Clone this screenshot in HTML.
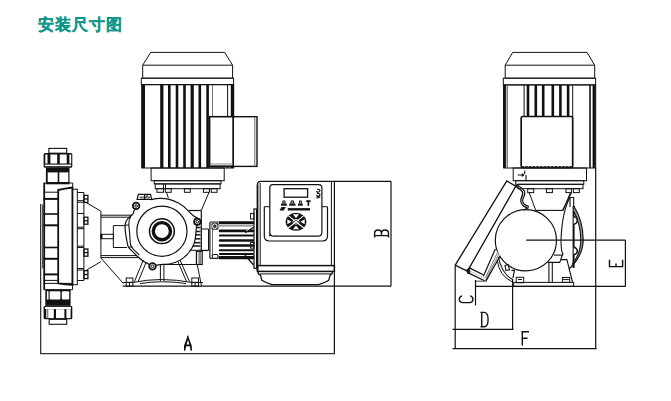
<!DOCTYPE html>
<html><head><meta charset="utf-8">
<style>
html,body{margin:0;padding:0;background:#fff;width:671px;height:401px;overflow:hidden}
svg{position:absolute;left:0;top:0;display:block}
.t{position:absolute;left:38px;top:14.6px;font-family:"Liberation Sans",sans-serif;font-weight:bold;font-size:16px;line-height:20px;color:#12968a;letter-spacing:1.1px;white-space:nowrap;-webkit-text-stroke:0.25px #12968a}
</style></head><body>
<div class="t">安装尺寸图</div>
<svg width="671" height="401" viewBox="0 0 671 401" fill="none" stroke="#111" stroke-width="1" shape-rendering="geometricPrecision">
<!-- LEFT VIEW MOTOR -->
<g id="lmotor">
<path d="M150.7 52.4H224.7L232.6 65.2V78.2H142.7V65.2Z"/>
<line x1="142.7" y1="65.2" x2="232.6" y2="65.2"/>
<rect x="141.3" y="78.2" width="92.3" height="6.4"/>
<rect x="141.7" y="84.7" width="92" height="83.3"/>
<g stroke-width="3.2">
<line x1="143.4" y1="85" x2="143.4" y2="168"/>
<line x1="161.8" y1="85" x2="161.8" y2="168"/>
<line x1="192.2" y1="85" x2="192.2" y2="168"/>
<line x1="232.4" y1="85" x2="232.4" y2="168"/>
</g>
<g stroke-width="2.6">
<line x1="169.3" y1="85" x2="169.3" y2="168"/>
<line x1="177" y1="85" x2="177" y2="168"/>
<line x1="184.5" y1="85" x2="184.5" y2="168"/>
<line x1="199.8" y1="85" x2="199.8" y2="168"/>
<line x1="207.6" y1="85" x2="207.6" y2="168"/>
</g>
<line x1="212.5" y1="85" x2="212.5" y2="117" stroke="#777"/>
<line x1="227.6" y1="85" x2="227.6" y2="168"/>
<rect x="209.6" y="116.7" width="23.7" height="49.7" fill="#fff" stroke-width="1.6"/>
<rect x="233.3" y="116.7" width="23.7" height="49.7" fill="#fff" stroke-width="1.4"/>
<line x1="210.5" y1="166.4" x2="233" y2="166.4" stroke-width="1.5"/>
<line x1="254.8" y1="117" x2="254.8" y2="166.4" stroke="#666"/>
<line x1="210" y1="164" x2="233" y2="164" stroke="#888"/>
<rect x="151.1" y="168" width="73.1" height="12.7"/>
<rect x="154.2" y="180.7" width="66.8" height="3.2"/>
<rect x="155.2" y="183.9" width="64.9" height="4.8"/>
<line x1="163.5" y1="183.9" x2="163.5" y2="188.7"/>
<line x1="165.5" y1="183.9" x2="165.5" y2="188.7"/>
<rect x="156.9" y="188.7" width="6.6" height="3.6"/>
<rect x="165.3" y="188.7" width="5.9" height="3.6"/>
<rect x="184.4" y="188.7" width="5.9" height="3.6"/>
<rect x="203.4" y="188.7" width="6" height="3.6"/>
<rect x="211.2" y="188.7" width="5.9" height="3.6"/>
<line x1="166.5" y1="192.3" x2="168.4" y2="198.2"/>
<line x1="209" y1="192.3" x2="201.3" y2="210.5"/>
</g>
<!-- DIAPHRAGM HEAD -->
<g id="lhead">
<!-- top valve -->
<rect x="48.9" y="148.4" width="17.8" height="4.8" stroke-width="1.1"/>
<rect x="43.6" y="152.9" width="28.7" height="14.8" rx="1.5" fill="#111" stroke="none"/>
<g fill="#fff" stroke="none">
<rect x="45.3" y="154.5" width="2.2" height="9"/>
<rect x="50.4" y="154.5" width="6.8" height="9"/>
<rect x="59.8" y="154.5" width="6.9" height="9"/>
<rect x="69.4" y="154.5" width="1.8" height="9"/>
<rect x="44.8" y="164.6" width="26.3" height="1.6"/>
</g>
<rect x="45.9" y="167.5" width="23.6" height="16.8" fill="#111" stroke="none"/>
<g fill="#fff" stroke="none">
<rect x="47.7" y="172.4" width="10" height="9.6"/>
<rect x="59.3" y="172.4" width="9" height="9.6"/>
</g>
<!-- body plate -->
<path d="M43.5 183H72.7V187.6"/>
<line x1="43.5" y1="192.2" x2="58.4" y2="192.2"/>
<line x1="43.5" y1="198.9" x2="58.4" y2="198.9" stroke-width="2"/>
<line x1="43.5" y1="214" x2="58.4" y2="214" stroke-width="1.6"/>
<line x1="43.5" y1="225.3" x2="58.4" y2="225.3" stroke-width="2"/>
<line x1="43.5" y1="247.5" x2="58.4" y2="247.5" stroke-width="1.6"/>
<line x1="43.5" y1="258.8" x2="58.4" y2="258.8" stroke-width="2"/>
<line x1="43.5" y1="274.4" x2="58.4" y2="274.4" stroke-width="2"/>
<line x1="43.5" y1="280.4" x2="58.4" y2="280.4"/>
<line x1="44.2" y1="183" x2="44.2" y2="289.5" stroke-width="1.8"/>
<line x1="42.7" y1="204.5" x2="42.7" y2="268.4" stroke-width="0.9"/>
<!-- cover -->
<path d="M58.2 283.4V190Q65 188.5 72.4 187.5V284.9Q65 284.4 58.2 283.4Z" stroke-width="1.8"/>
<rect x="72.6" y="189.2" width="4.7" height="95.5"/>
<path d="M77.3 192.5H83.9V280.5H77.3"/>
<line x1="77.3" y1="200.7" x2="83.9" y2="200.7"/>
<line x1="77.3" y1="202.2" x2="83.9" y2="202.2"/>
<line x1="77.3" y1="213.5" x2="83.9" y2="213.5"/>
<line x1="77.3" y1="227.2" x2="83.9" y2="227.2"/>
<line x1="77.3" y1="228.7" x2="83.9" y2="228.7"/>
<line x1="77.3" y1="246.2" x2="83.9" y2="246.2"/>
<line x1="77.3" y1="247.5" x2="83.9" y2="247.5"/>
<line x1="77.3" y1="268.5" x2="83.9" y2="268.5"/>
<line x1="77.3" y1="270" x2="83.9" y2="270"/>
<g stroke-width="1.3">
<rect x="84" y="195.4" width="3.9" height="7"/><line x1="84" y1="199" x2="87.9" y2="199"/>
<rect x="84" y="217.2" width="3.9" height="7"/><line x1="84" y1="220.8" x2="87.9" y2="220.8"/>
<rect x="84" y="249" width="3.9" height="7.2"/><line x1="84" y1="252.6" x2="87.9" y2="252.6"/>
<rect x="84" y="270.7" width="3.9" height="7.9"/><line x1="84" y1="274.5" x2="87.9" y2="274.5"/>
</g>
<path d="M43.5 283.4H72.6V289.7H43.5"/>
<!-- bottom valve -->
<rect x="45.3" y="289.5" width="25.3" height="16.3" fill="#111" stroke="none"/>
<g fill="#fff" stroke="none">
<rect x="46.9" y="291.2" width="1.6" height="8.4"/>
<rect x="49.6" y="291.2" width="10.8" height="8.4" rx="1"/>
<rect x="61.8" y="291.2" width="7.4" height="8.4" rx="1"/>
</g>
<rect x="43.6" y="305.8" width="28.7" height="13.5" rx="1.5" fill="#111" stroke="none"/>
<g fill="#fff" stroke="none">
<rect x="44.9" y="306.9" width="26.1" height="2.2"/>
<rect x="46.3" y="309.2" width="1.2" height="8.9"/>
<rect x="48.2" y="309.2" width="5.6" height="8.9"/>
<rect x="56" y="309.2" width="8.4" height="8.9"/>
<rect x="66.4" y="309.2" width="4.2" height="8.9"/>
</g>
<rect x="49.2" y="319.3" width="17.5" height="5" stroke-width="1.1"/>
<!-- connection to housing -->
<line x1="85.9" y1="202.4" x2="100.9" y2="211.2"/>
<line x1="86.6" y1="270" x2="100.9" y2="261.7"/>
<line x1="100.9" y1="211.2" x2="100.9" y2="258"/>
<line x1="100.9" y1="258" x2="123.3" y2="283.4"/>
<line x1="100.9" y1="215.2" x2="132.4" y2="215.2"/>
<line x1="100.9" y1="217.2" x2="131" y2="217.2"/>
<line x1="100.9" y1="255.6" x2="136.5" y2="255.6"/>
<line x1="100.9" y1="257.6" x2="138.5" y2="257.6"/>
<path d="M127 247.5H113.3V225.6H125.5"/>
<rect x="100.9" y="234.3" width="12.6" height="4.4"/>
<line x1="101.5" y1="234.3" x2="101.5" y2="238.7" stroke-width="2"/>
</g>
<!-- GEAR HOUSING -->
<g id="lhous">
<path d="M137.1 199.5L138.3 194.4H150.6L151.5 199.5Z" stroke-width="1.2"/>
<path d="M139.5 197.5H150" stroke="#777" stroke-width="2.2"/>
<line x1="144.6" y1="194.8" x2="144.6" y2="199" stroke-width="1.2"/>
<line x1="147" y1="194.8" x2="147" y2="197" stroke-width="1"/>
<!-- outer outline -->
<path d="M151.2 199.6Q165 196.2 178 202.8Q184.6 206.4 188.8 211.3Q192 215.3 197.7 218.4" stroke-width="1.2"/>
<path d="M134.6 209.2L133 214L131.2 215.4Q126.5 219 125.1 224.3Q124.8 230 126 236Q127.2 243 128 246.2Q129.5 249 131.2 250.2L137.7 256.7Q143 261.5 149.2 264.4" stroke-width="1.2"/>
<path d="M131.2 215.4Q128.5 219.5 128.8 224.3Q129 228 129.6 232.4Q130 240 130.4 243.8Q131 246.5 132.8 248.6L139.3 255.1" stroke-width="1.1"/>
<line x1="125" y1="225.1" x2="128.9" y2="225.1"/>
<line x1="128" y1="247" x2="132.3" y2="247"/>
<path d="M156 265.2L162.9 264.4A32 32 0 0 0 195.3 239L196.6 225.5" stroke-width="1.2"/>
<circle cx="136.1" cy="205.9" r="3.3" stroke-width="1.8"/>
<circle cx="136.1" cy="205.9" r="1.3"/>
<circle cx="152.5" cy="266.4" r="3.3" stroke-width="1.8"/>
<circle cx="152.5" cy="266.4" r="1.3"/>
<circle cx="197.3" cy="221.8" r="3.2" stroke-width="1.8"/>
<circle cx="197.3" cy="221.8" r="1.3"/>
<circle cx="161.9" cy="231.2" r="25.1" stroke-width="1.2"/>
<circle cx="161.9" cy="231.2" r="12.4" stroke-width="1.5"/>
<circle cx="161.9" cy="231.2" r="8.6" stroke-width="3.4"/>
<!-- fins strip right -->
<line x1="201.3" y1="210.5" x2="201.3" y2="252" stroke-width="1.2"/>
<line x1="188.8" y1="210.5" x2="201.3" y2="210.5" stroke-width="1.2"/>
<g stroke-width="1.5">
<line x1="196.4" y1="227.5" x2="201" y2="227.5"/>
<line x1="196" y1="231.5" x2="201" y2="231.5"/>
<line x1="195.5" y1="234.8" x2="201" y2="234.8"/>
<line x1="195" y1="238.8" x2="201" y2="238.8"/>
<line x1="194" y1="242.7" x2="201" y2="242.7"/>
<line x1="192.6" y1="246" x2="201" y2="246"/>
</g>
<line x1="200.2" y1="226" x2="200.2" y2="250" stroke="#999" stroke-width="0.8"/>
<line x1="189.6" y1="250.3" x2="208.3" y2="250.3"/>
<rect x="196.4" y="251.3" width="5.8" height="13.2" stroke-width="1.2"/>
<line x1="198.3" y1="252" x2="198.3" y2="264" stroke="#888" stroke-width="0.8"/>
<line x1="200" y1="252" x2="200" y2="264" stroke-width="1"/>
<line x1="162.9" y1="264.5" x2="202.3" y2="264.5"/>
<!-- legs -->
<line x1="143.3" y1="260" x2="134.4" y2="281.7"/>
<line x1="146.3" y1="262" x2="138.1" y2="281.7"/>
<line x1="160.4" y1="264.8" x2="160.4" y2="281"/>
<line x1="163.9" y1="264.8" x2="163.9" y2="281"/>
<line x1="177.9" y1="261.5" x2="186.5" y2="281.5"/>
<line x1="180.2" y1="260.5" x2="189.5" y2="281.5"/>
<line x1="197.3" y1="264.9" x2="201.5" y2="286"/>
<!-- base -->
<line x1="122.7" y1="286.2" x2="391" y2="286.2" stroke-width="1.3"/>
<path d="M123.2 282.5H133Q160 276.5 192 282.5H202.9"/>
<path d="M140 283.5Q162 280 186 283.5"/>
<rect x="126.2" y="278" width="6.7" height="8.2"/>
<line x1="126.2" y1="282.3" x2="132.9" y2="282.3"/>
<line x1="129.5" y1="282.3" x2="129.5" y2="286.2"/>
<rect x="191.8" y="278" width="6.7" height="8.2"/>
<line x1="191.8" y1="282.3" x2="198.5" y2="282.3"/>
<line x1="195.1" y1="282.3" x2="195.1" y2="286.2"/>
</g>
<!-- SMALL MOTOR + CONTROLLER -->
<g id="lctl">
<path d="M201.2 229H208.5V250.6H202.4"/>
<path d="M209.9 258.3V223.2Q209.9 222 211 222H218.2" stroke-width="1.2"/>
<line x1="212.5" y1="223" x2="212.5" y2="258.3" stroke="#555" stroke-width="0.9"/>
<line x1="209.9" y1="258.3" x2="218.2" y2="258.3" stroke-width="1.2"/>
<rect x="211.5" y="222.8" width="7" height="7" rx="1.5" fill="#333" stroke="none"/><circle cx="214.8" cy="226.2" r="2.3" stroke="#fff" stroke-width="1"/>
<path d="M212 256.5Q212 254.5 214 254.5H216.5Q218 254.5 218 256.5V258.3" stroke-width="1.1"/>
<g fill="#111" stroke="none">
<rect x="218.6" y="221.2" width="35.6" height="3.1" rx="1"/>
<rect x="219" y="225.3" width="35" height="1.2" fill="#777"/>
<rect x="218.8" y="229.4" width="35.2" height="2.9" rx="1"/>
<rect x="218.8" y="234.4" width="35.2" height="2.2" rx="1"/>
<rect x="218.8" y="239.3" width="35.2" height="2.5" rx="1"/>
<rect x="218.8" y="244.2" width="35.2" height="2.5" rx="1"/>
<rect x="218.8" y="249.2" width="35.2" height="2.1" rx="1"/>
<rect x="218.8" y="253" width="35.2" height="2" rx="1"/>
<rect x="218.6" y="255.9" width="35.6" height="3.3" rx="1"/>
</g>
<line x1="245.2" y1="232.6" x2="253.6" y2="227.2" stroke-width="1.4"/>
<line x1="246" y1="231" x2="253.6" y2="226" stroke="#fff" stroke-width="0.8"/>
<path d="M244.8 255L253.6 265" stroke-width="1.2"/>
<rect x="254" y="209" width="2.6" height="59.3" stroke-width="1.2"/>
<rect x="250.6" y="213.4" width="3.4" height="5.6"/>
<rect x="250.6" y="242.5" width="3.4" height="5.6"/>
<!-- controller -->
<path d="M257.5 271.2V184.3" stroke-width="1.8"/>
<path d="M257.5 184.6Q257.5 181.3 260.8 181.3H334.4" stroke-width="1.3"/>
<line x1="260.2" y1="183" x2="260.2" y2="265.6"/>
<line x1="331.4" y1="182" x2="331.4" y2="265.6"/>
<line x1="334.4" y1="181.3" x2="334.4" y2="354" stroke-width="1.2"/>
<rect x="257.5" y="265.6" width="76.9" height="5.8" stroke-width="1.5"/>
<path d="M258 271.4Q258 274.6 260.4 274.8L261.8 280.2Q265.5 282.6 272 284.6H318.6Q325 282.6 328.8 280.2L330.2 274.8Q332.4 274.6 332.4 271.4" stroke-width="1.3"/>
<line x1="260" y1="273.9" x2="331" y2="273.9" stroke-width="1"/>
<path d="M264.3 206.7V236Q264.3 241 269.3 241H322.5Q327.5 241 327.5 236V206.7" stroke-width="1.2"/>
<line x1="264.3" y1="206.7" x2="269.8" y2="206.7"/>
<line x1="321.9" y1="206.7" x2="327.5" y2="206.7"/>
<path d="M269.8 236.2V188Q269.8 184.7 272.8 184.7H318.9Q321.9 184.7 321.9 188V232.2Q321.9 236.2 317.9 236.2H273.8Q269.8 236.2 269.8 232.2" stroke-width="1.2"/>
<rect x="284.1" y="188.7" width="23.5" height="8.5" stroke-width="1.3"/>
<g fill="#111" stroke="none">
<rect x="281" y="203.6" width="5.8" height="2.1"/>
<path d="M282 203.6L282.6 200.4H285.2L285.8 203.6Z"/>
<rect x="289.2" y="203.6" width="6.3" height="2.1"/>
<path d="M290.2 203.6L291 200.4H293.8L294.6 203.6Z"/>
<rect x="298" y="203.6" width="4.8" height="2.1"/>
<path d="M298.8 203.6L299.2 200.4H301.6L302 203.6Z"/>
<path d="M306.2 200.3H310.5V202H309.2V205.7H307.5V202H306.2Z"/>
</g>
<g fill="#fff" stroke="none">
<rect x="283.2" y="201.6" width="1.3" height="1"/>
<rect x="291.6" y="201.6" width="1.6" height="1"/>
<rect x="299.9" y="201.6" width="1.1" height="1"/>
</g>
<rect x="287.8" y="208.1" width="22.2" height="2.4" fill="#111" stroke="none"/>
<path d="M279.5 210.5L281.5 207.1H285.8L283.8 210.5Z" fill="#111" stroke="none"/>
<path d="M317 189.2Q320 189 320 190.6Q320 192.2 318 192.2Q316.6 192.2 316.8 190.8M317 193.4Q320 193.2 320 194.8Q320 196.2 318 196.2Q316.6 196.2 316.8 194.8M316.6 198.2L320.2 197L316.6 196.6" stroke-width="1.1"/>
<ellipse cx="296" cy="221.8" rx="10.5" ry="9" fill="#111" stroke="none"/>
<g stroke="#fff" stroke-width="1.1">
<line x1="288.2" y1="215.6" x2="303.8" y2="228"/>
<line x1="303.8" y1="215.6" x2="288.2" y2="228"/>
</g>
<g fill="#fff" stroke="none">
<path d="M293 214.3L299 214.3L296 218.2Z"/>
<path d="M293 229.3L299 229.3L296 225.4Z"/>
<path d="M287.3 219.3L287.3 224.3L291.5 221.8Z"/>
<path d="M304.7 219.3L304.7 224.3L300.5 221.8Z"/>
</g>
<ellipse cx="296" cy="221.8" rx="3.2" ry="2.3" fill="none" stroke="#fff" stroke-width="0.8"/>


</g>
<!-- RIGHT VIEW MOTOR -->
<g id="rmotor">
<path d="M512.7 52.4H587L594.7 65.2V78.2H505.2V65.2Z"/>
<line x1="505.2" y1="65.2" x2="594.7" y2="65.2"/>
<rect x="503.3" y="78.2" width="92.3" height="6.6"/>
<rect x="503.7" y="85" width="92" height="83"/>
<g stroke-width="2.8">
<line x1="504.5" y1="85" x2="504.5" y2="168"/>
<line x1="594" y1="85" x2="594" y2="168"/>
</g>
<g stroke-width="2.6">
<line x1="528" y1="85" x2="528" y2="117"/>
<line x1="535.8" y1="85" x2="535.8" y2="117"/>
<line x1="543.2" y1="85" x2="543.2" y2="117"/>
<line x1="552.8" y1="85" x2="552.8" y2="117"/>
<line x1="560.4" y1="85" x2="560.4" y2="117"/>
<line x1="568.1" y1="85" x2="568.1" y2="117"/>
</g>
<line x1="507.2" y1="85" x2="507.2" y2="168" stroke="#666" stroke-width="1.3"/>
<line x1="524.1" y1="85" x2="524.1" y2="117"/>
<line x1="572.7" y1="85" x2="572.7" y2="117"/>
<line x1="590" y1="85" x2="590" y2="168" stroke-width="1.6"/>
<rect x="521.2" y="116.5" width="51.5" height="51" rx="1.5" stroke-width="1.7" fill="#fff"/>
<line x1="521.5" y1="166.8" x2="572.5" y2="166.8" stroke="#333" stroke-width="1.4" stroke-dasharray="2.5 1.2"/>
<rect x="513.2" y="168" width="73.3" height="12.7"/>
<rect x="515.7" y="180.7" width="68.1" height="3.6"/>
<rect x="518" y="184.3" width="65" height="4.4"/>
<rect x="527.7" y="188.7" width="6" height="3.9"/>
<rect x="546.4" y="188.7" width="6" height="3.9"/>
<rect x="565.9" y="188.7" width="5.5" height="3.9"/>
<rect x="573.4" y="188.7" width="5.9" height="3.9"/>
<path d="M517.7 175H524M524 175L521.8 173.6M524 175L521.8 176.4M524.7 170.5V174M526 175V180.7" stroke-width="1.1"/>
<line x1="529.2" y1="192.6" x2="535.9" y2="210.9"/>
<line x1="570.4" y1="192.6" x2="562.9" y2="211"/>
</g>
<!-- RIGHT VIEW PUMP -->
<g id="rpump">
<!-- tilted head -->
<path d="M455.2 265.1L506.8 181L515.8 186.2L467.9 270.4" stroke-width="1.3"/>
<line x1="455.2" y1="265.1" x2="468.7" y2="271.9" stroke-width="1.2"/>
<path d="M516 186.5Q520 188.8 522.3 191.6Q523.4 193.8 521.5 197.6Q519.6 201.5 522.4 204.9Q524.6 206.8 526.6 207.6L526.2 208.8L523.8 210.2" stroke-width="1.3"/>
<path d="M517.4 185.3Q522 187.8 524.4 191Q525.6 193.6 523.4 197.8Q521.6 201.3 524.1 204Q526 205.6 528.3 206.4L527.6 209.4" stroke-width="1.2"/>
<path d="M514.5 184.5L517.5 185.5L516 188Z" fill="#111" stroke="none"/>
<path d="M469.4 267.9L484.2 275.2" stroke-width="1.2"/>
<path d="M469 270.5L484 278" stroke="#999" stroke-width="0.6"/>
<path d="M468.3 272.8L485 281" stroke-width="1.3"/>
<path d="M466.8 269.6L469.4 267.9L469.8 273.2L467.6 273.6Z" fill="#111" stroke-width="0.8"/>
<line x1="475.7" y1="281.2" x2="485.3" y2="281.2" stroke="#666" stroke-width="1.2"/>
<!-- big circle -->
<circle cx="525.9" cy="240.3" r="30.6" stroke-width="1.2"/>
<path d="M483 276L495 248.8L500.2 255.6L485.8 281.8Z" fill="#fff" stroke="none"/>
<line x1="483.4" y1="276.2" x2="495.3" y2="249" stroke-width="1.2"/>
<line x1="485.6" y1="281.6" x2="500.2" y2="255.8" stroke-width="1.2"/>
<g stroke="#444" stroke-width="0.7">
<line x1="485.3" y1="278.2" x2="497.6" y2="252.2"/>
<line x1="485.8" y1="279.6" x2="498.9" y2="254"/>
</g>
<path d="M498.4 257Q501.5 273.5 512.8 279.6" stroke-width="1.1"/>
<path d="M497.2 260Q499 275.5 511.8 281.6" stroke-width="1"/>
<path d="M505 265.5L508.2 264.5L509.5 269.8L506 270.5Z" stroke-width="1.1"/>
<path d="M511.4 270.4L514.4 270.4L513 278" stroke-width="1.2"/>
<!-- behind -->
<line x1="535.7" y1="210.4" x2="562.5" y2="210.4" stroke-width="1.1"/>
<line x1="571.5" y1="192.4" x2="562.5" y2="210.4" stroke-width="1.1"/>
<path d="M570 197.5Q562 212 561 240Q561 252 563 254Q561.5 257 560.7 259.6" stroke-width="1.1"/>
<line x1="554" y1="255.1" x2="563" y2="255.1" stroke-width="1.1"/>
<path d="M547.8 262.4H559.6L561 259.6H566.9L572.5 282" stroke-width="1.1"/>
<line x1="548.9" y1="262.4" x2="548.9" y2="282.5" stroke-width="1.1"/>
<line x1="552.3" y1="262.6" x2="552.3" y2="282.5" stroke-width="1.1"/>
<path d="M570 207V197.5H573.7V207" stroke-width="1.1"/>
<line x1="573.6" y1="206" x2="573.6" y2="268" stroke-width="2"/>
<path d="M573.7 206Q583 220 583.2 240Q583 256 569 269L572 264.5Q580.6 254 580.8 240Q580.6 224 573.7 211Z" fill="#999" stroke="none"/>
<path d="M573.7 206Q583 220 583.2 240Q583 256 569 269" stroke-width="1.2"/>
<path d="M573.7 211Q580.6 224 580.8 240Q580.6 254 572 264.5" stroke-width="1.1"/>
<path d="M573.7 216.8A3.6 3.6 0 0 1 573.7 224" fill="#fff" stroke-width="1.6"/>
<path d="M573.7 247.4A3.6 3.6 0 0 1 573.7 254.6" fill="#fff" stroke-width="1.6"/>
<!-- base -->
<rect x="513.7" y="282.4" width="59.9" height="3.9"/>
<rect x="516.2" y="277.3" width="7.5" height="5.5"/>
<line x1="518" y1="279.5" x2="522" y2="279.5"/>
<rect x="562.4" y="277.5" width="7.3" height="4.9"/>
<line x1="563" y1="279.6" x2="569" y2="279.6"/>
</g>
<!-- RIGHT DIMS -->
<g id="rdim" stroke-width="1.2">
<line x1="595.7" y1="168" x2="595.7" y2="349"/>
<line x1="475" y1="286.4" x2="625.4" y2="286.4" stroke-width="1.3"/>
<line x1="526.2" y1="240.2" x2="625.4" y2="240.2"/>
<line x1="625.4" y1="240.2" x2="625.4" y2="286.4"/>
<line x1="455.2" y1="265.1" x2="455.2" y2="349"/>
<line x1="475.5" y1="280" x2="475.5" y2="305.5"/>
<line x1="512.6" y1="279" x2="512.6" y2="329.4"/>
<line x1="452.5" y1="329.4" x2="513.5" y2="329.4"/>
<line x1="452.5" y1="348.6" x2="596.5" y2="348.6"/>
</g>
<!-- DIMENSIONS LEFT -->
<g id="ldim" stroke-width="1.2">
<line x1="40.7" y1="204" x2="40.7" y2="354" stroke-width="1.1"/>
<line x1="40" y1="353.6" x2="335" y2="353.6" stroke-width="1.4" stroke="#333"/>
<line x1="334" y1="181.3" x2="391" y2="181.3"/>
<line x1="391" y1="181.3" x2="391" y2="286.2"/>
<path d="M184.5 350.5L188 337L191.5 350.5M185.5 345H190.5" stroke-width="1.1"/>
</g>
<!-- LETTERS -->
<g id="letters" stroke="#111" stroke-width="1.4" fill="none" stroke-linecap="butt">
<path d="M184.6 350.6V345.7L187.8 337.2L191.1 345.7V350.6M184.6 345.7H191.1" stroke-width="1.2"/>
<path d="M374.6 237.4V233.5Q374.6 230 378 230Q381.5 230 381.5 233.5V235.6M381.5 233.5Q381.5 230 385 230Q388.5 230 388.5 233.5V237.4M374.6 235.6H388.5"/>
<path d="M462 295.9Q459.3 296.5 459.3 299.3Q459.3 302.6 463 302.6H469.3Q472.9 302.6 472.9 299.3Q472.9 296.5 470.2 295.9"/>
<path d="M480.5 312.4H484.5Q488.1 312.9 488.1 319.5Q488.1 326.2 484.5 326.7H480.5M481.7 312.4V326.7"/>
<path d="M609.5 259.8V266.6H622.6V259.8M616 263.5V266.6"/>
<path d="M521.5 331.8H529M522.3 331.8V345.6M522.3 338.2H527.5"/>
</g>
</svg>
</body></html>
